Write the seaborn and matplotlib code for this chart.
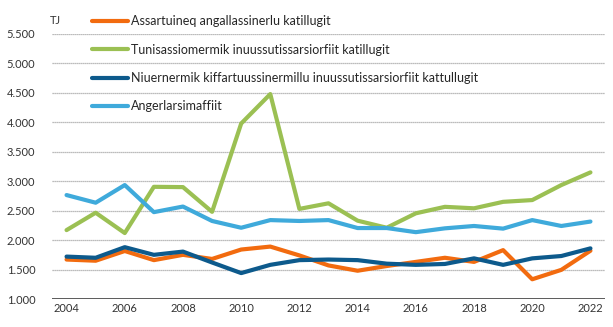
import matplotlib
matplotlib.use("Agg")
import matplotlib.pyplot as plt
import matplotlib.ticker as mticker
import seaborn as sns
import pandas as pd

years = list(range(2004, 2023))
series_names = [
    "Assartuineq angallassinerlu katillugit",
    "Tunisassiomermik inuussutissarsiorfiit katillugit",
    "Niuernermik kiffartuussinermillu inuussutissarsiorfiit kattullugit",
    "Angerlarsimaffiit",
]
assartuineq = [1670, 1650, 1815, 1660, 1750, 1680, 1840, 1890, 1740, 1570, 1480, 1560, 1630, 1700, 1630, 1830, 1335, 1495, 1820]
tunisassiomermik = [2170, 2465, 2120, 2905, 2900, 2480, 3980, 4480, 2530, 2625, 2330, 2210, 2455, 2565, 2540, 2650, 2680, 2935, 3150]
niuernermik = [1720, 1700, 1880, 1750, 1805, 1620, 1440, 1580, 1660, 1670, 1660, 1600, 1580, 1595, 1690, 1580, 1690, 1730, 1860]
angerlarsimaffiit = [2765, 2635, 2935, 2475, 2570, 2325, 2210, 2340, 2325, 2340, 2205, 2205, 2135, 2200, 2240, 2195, 2340, 2240, 2315]
colors = ["#F26B0F", "#9BC053", "#0D5A8C", "#3FAADB"]
y_ticks = [1000, 1500, 2000, 2500, 3000, 3500, 4000, 4500, 5000, 5500]

values = [assartuineq, tunisassiomermik, niuernermik, angerlarsimaffiit]
df = pd.DataFrame(
    [(y, name, v) for name, vals in zip(series_names, values) for y, v in zip(years, vals)],
    columns=["year", "series", "value"],
)

sns.set_theme(style="white")
plt.rcParams["font.family"] = ["Lato", "DejaVu Sans"]

fig = plt.figure(figsize=(6.13, 3.27), dpi=100)
ax = fig.add_axes([52 / 613, 1 - 299 / 327, (605 - 52) / 613, (299 - 34) / 327])

sns.lineplot(data=df, x="year", y="value", hue="series", hue_order=series_names,
             palette=colors, linewidth=3.0, ax=ax, legend=True)

ax.set_xlim(2003.5, 2022.5)
ax.set_ylim(1000, 5500)
ax.set_yticks(y_ticks)
ax.yaxis.set_major_formatter(mticker.FuncFormatter(lambda v, p: f"{int(v):,}".replace(",", ".")))
ax.set_xticks(years[::2])
ax.tick_params(axis="both", length=0, labelsize=8, colors="#333333", pad=3)
ax.tick_params(axis="y", pad=12)
ax.set_xlabel("")
ax.set_ylabel("")
for gy in y_ticks[1:]:
    ax.axhline(gy, color="#A6A6A6", linewidth=0.9, linestyle=(0, (1, 0.6)), zorder=0)
ax.axhline(1000, color="#404040", linewidth=1.2, zorder=1)
for s in ax.spines.values():
    s.set_visible(False)

leg = ax.legend(loc="upper left", bbox_to_anchor=(0.072, 1.07), frameon=False,
                fontsize=9, handlelength=2.9, handletextpad=0.2, labelspacing=1.3,
                borderaxespad=0, borderpad=0)
for line in leg.get_lines():
    line.set_linewidth(3.0)

fig.text(50 / 613, 1 - 20 / 327, "TJ", fontsize=8, color="#333333", va="center", ha="left")

fig.savefig("out.png", dpi=100)
